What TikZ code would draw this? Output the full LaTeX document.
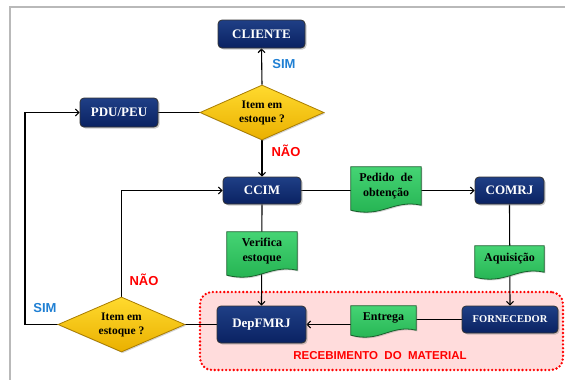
\documentclass[tikz,border=0pt]{standalone}
\usepackage{fontspec}
\setmainfont{Liberation Serif}
\newfontfamily\labfont{Liberation Sans}
\usetikzlibrary{shapes.geometric,arrows.meta,calc,shadows,backgrounds}
\pgfdeclarelayer{mid}
\pgfsetlayers{background,mid,main}
\definecolor{navytop}{HTML}{1F3F86}
\definecolor{navybot}{HTML}{0A2262}
\definecolor{goldtop}{HTML}{FFDA2E}
\definecolor{goldbot}{HTML}{EAB000}
\definecolor{goldline}{HTML}{A87C00}
\definecolor{greentop}{HTML}{45D474}
\definecolor{greenbot}{HTML}{22B04F}
\definecolor{greenline}{HTML}{17602B}
\definecolor{pinkfill}{HTML}{FFDCDC}
\definecolor{simblue}{HTML}{1F7FD3}
\newcommand{\docshape}[2]{%
  \path[top color=greentop, bottom color=greenbot, draw=greenline, line width=0.8pt,
        drop shadow={shadow xshift=1.2pt, shadow yshift=-1.2pt, opacity=0.35}]
    (#1.north west) -- (#1.north east) -- (#1.south east)
    .. controls ($(#1.south east)+(-0.4*#2,-6)$) and ($(#1.south west)+(0.45*#2,13)$) ..
    ($(#1.south west)+(0,5)$) -- cycle;}
\begin{document}
\begin{tikzpicture}[x=1pt,y=-1pt,
  box/.style={draw=black!80, line width=0.8pt, top color=navytop, bottom color=navybot,
    rounded corners=4pt, text=white, inner sep=0pt,
    font=\bfseries\fontsize{13}{14}\selectfont,
    drop shadow={shadow xshift=1.5pt, shadow yshift=-1.5pt, opacity=0.4}},
  dia/.style={diamond, draw=goldline, line width=0.8pt, top color=goldtop, bottom color=goldbot,
    aspect=2.25, minimum width=124pt, minimum height=55pt, inner sep=0pt, align=center,
    font=\bfseries\fontsize{11.5}{14}\selectfont,
    drop shadow={shadow xshift=1.2pt, shadow yshift=-1.2pt, opacity=0.35}},
  doc/.style={inner sep=0pt, align=center, font=\bfseries\fontsize{12}{15}\selectfont},
  lab/.style={font=\labfont\bfseries\fontsize{13}{15}\selectfont},
  conn/.style={line width=1.1pt, black},
  arr/.style={conn, -{Straight Barb[length=3.5pt,width=7pt]}}
]
\useasboundingbox (0,0) rectangle (565,380);
\draw[gray!55, line width=1.5pt] (10,380) -- (10,7) -- (565,7);

% region
\begin{pgfonlayer}{background}
\node[draw=red, fill=pinkfill, rounded corners=12pt, line width=2.6pt,
      dash pattern=on 0pt off 3.8pt, line cap=round,
      minimum width=363pt, minimum height=78pt, inner sep=0pt] (reg) at (381.5,331) {};
\end{pgfonlayer}

% boxes
\node[box, minimum width=87pt, minimum height=28pt] (cli) at (261.5,34) {CLIENTE};
\node[box, minimum width=78pt, minimum height=29pt] (pdu) at (119,112.5) {PDU/PEU};
\node[dia] (d1) at (262,112.5) {Item em\\estoque ?};
\node[box, minimum width=78pt, minimum height=27pt] (ccim) at (262,190.5) {CCIM};
\node[box, minimum width=69pt, minimum height=27pt] (comrj) at (509.5,190.5) {COMRJ};
\node[box, minimum width=89pt, minimum height=37pt] (dep) at (261.5,324.5) {DepFMRJ};
\node[box, minimum width=96pt, minimum height=27pt, font=\bfseries\fontsize{10.5}{12}\selectfont] (forn) at (510,319.5) {FORNECEDOR};
\node[dia, minimum width=127pt] (d2) at (121.5,324.5) {Item em\\estoque ?};

% documents
\node[doc, minimum width=70pt, minimum height=38pt] (ped) at (386,186) {Pedido\ \ de\\obtenção};
\node[doc, minimum width=70pt, minimum height=38pt] (ver) at (262,251) {Verifica\\estoque};
\node[doc, minimum width=69pt, minimum height=26pt] (aq) at (509.5,259) {Aquisição};
\node[doc, minimum width=65pt, minimum height=24pt] (ent) at (383.5,318) {Entrega};
\begin{pgfonlayer}{mid}
\docshape{ped}{70}
\docshape{ver}{70}
\docshape{aq}{69}
\docshape{ent}{65}
\end{pgfonlayer}

% connectors
\coordinate (lft) at (25,324.5);
\begin{pgfonlayer}{background}
\draw[arr] (d1.north) -- (cli.south);
\draw[arr] (d1.south) -- (ccim.north);
\draw[conn] (pdu.east) -- (d1.west);
\draw[arr] (d2.west) -- (lft) |- (pdu.west);
\draw[arr] (d2.north) |- (ccim.west);
\draw[conn] (dep.west) -- (d2.east);
\draw[arr] (ccim.east) -- (comrj.west);
\draw[arr] (ccim.south) -- (dep.north);
\draw[arr] (comrj.south) -- (forn.north);
\draw[conn] (forn.west) -- (forn.west -| ent.east);
\draw[arr] (ent.west |- dep.east) -- (dep.east);
\end{pgfonlayer}

% labels
\node[lab, text=simblue] (s1) at (284,64) {SIM};
\node[lab, text=red] (n1) at (286,151) {NÃO};
\node[lab, text=red] (n2) at (144,280) {NÃO};
\node[lab, text=simblue] (s2) at (45,308) {SIM};
\node[lab, text=red, font=\labfont\bfseries\fontsize{11.5}{13}\selectfont] (rt) at (380,356) {RECEBIMENTO\ \ DO\ \ MATERIAL};
\end{tikzpicture}
\end{document}
